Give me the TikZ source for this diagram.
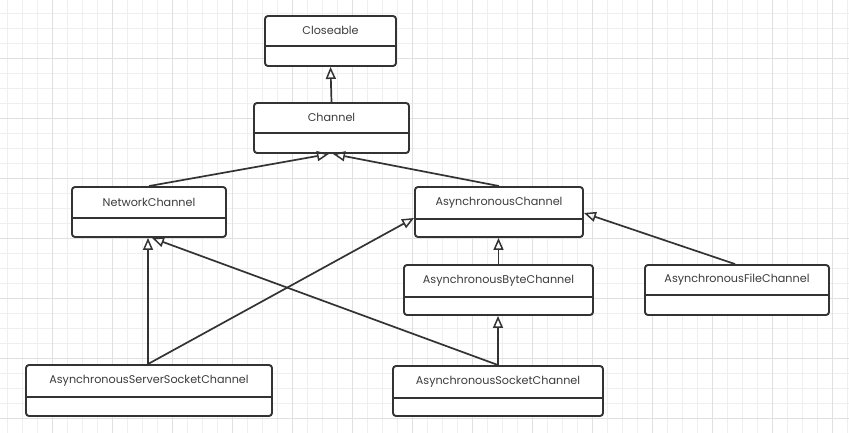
\documentclass[tikz,border=0pt]{standalone}
\usepackage{fontspec}
\setmainfont{Poppins}
\usetikzlibrary{arrows.meta}
\definecolor{ink}{HTML}{333333}
\definecolor{txt}{HTML}{3C3C3C}
\definecolor{gridminor}{HTML}{EFEFEF}
\definecolor{gridmajor}{HTML}{E0E0E0}
\tikzset{
  cls/.style={draw=ink, line width=1.9pt, rounded corners=3pt, fill=white, inner sep=0pt},
  divider/.style={draw=ink, line width=1.9pt},
  label/.style={text=txt, font=\fontsize{11.2}{13}\selectfont, inner sep=0pt, anchor=center},
  gen/.style={draw=ink, line width=1.7pt, -{Triangle[open, length=12pt, width=10pt, line width=1.5pt]}},
}
% \umlclass{name}{left}{top}{right}{bottom}{divider y}{text}
\newcommand{\umlclass}[7]{%
  \node[cls, minimum width={(#4-#2)*1pt}, minimum height={(#5-#3)*1pt}] (#1) at ({(#2+#4)/2},{(#3+#5)/2}) {};
  \draw[divider] (#1.west |- 0,#6) -- (#1.east |- 0,#6);
  \node[label] (#1-t) at ({(#2+#4)/2},{(#3+#6)/2-0.5}) {#7};
}
\begin{document}
\begin{tikzpicture}[x=1pt,y=-1pt]
\useasboundingbox (0,0) rectangle (849,433);
\fill[white] (0,0) rectangle (849,433);
\begin{scope}
\clip (0,0) rectangle (849,433);
\foreach \i in {0,...,56} {
  \draw[gridminor, line width=1pt] ({7.5+15*\i},0) -- ({7.5+15*\i},433);
}
\foreach \j in {0,...,28} {
  \draw[gridminor, line width=1pt] (0,{13.5+15*\j}) -- (849,{13.5+15*\j});
}
\foreach \i in {0,...,14} {
  \draw[gridmajor, line width=1pt] ({52.5+60*\i},0) -- ({52.5+60*\i},433);
}
\foreach \j in {0,...,7} {
  \draw[gridmajor, line width=1pt] (0,{58.5+60*\j}) -- (849,{58.5+60*\j});
}
\end{scope}

\umlclass{cl}{265}{16}{396}{66}{46}{Closeable}
\umlclass{ch}{254}{103}{409}{153}{133}{Channel}
\umlclass{nc}{72}{187}{226}{237}{218}{NetworkChannel}
\umlclass{ac}{415}{187}{583}{237}{219}{AsynchronousChannel}
\umlclass{abc}{404}{265}{593}{315}{297}{AsynchronousByteChannel}
\umlclass{afc}{645}{265}{829}{315}{295}{AsynchronousFileChannel}
\umlclass{assc}{26}{365}{272}{416}{397}{AsynchronousServerSocketChannel}
\umlclass{asc}{393}{366}{603}{416}{398}{AsynchronousSocketChannel}

\draw[gen] (ch.north) -- (cl.south);
\draw[gen] (nc.north) -- ([xshift=-2.5pt]ch.south);
\draw[gen] (ac.north) -- ([xshift=1.5pt]ch.south);
\draw[gen] (abc.north) -- (abc.north |- ac.south);
\draw[gen] ([xshift=-2pt]afc.north) -- ([yshift=-1pt]ac.east);
\draw[gen] ([xshift=-1pt]assc.north) -- ([xshift=-1pt]assc.north |- nc.south);
\draw[gen] ([xshift=-1pt]assc.north) -- ([yshift=-6pt]ac.west);
\draw[gen] (asc.north) -- ([xshift=3pt]nc.south);
\draw[gen] (asc.north) -- (asc.north |- abc.south);
\end{tikzpicture}
\end{document}
